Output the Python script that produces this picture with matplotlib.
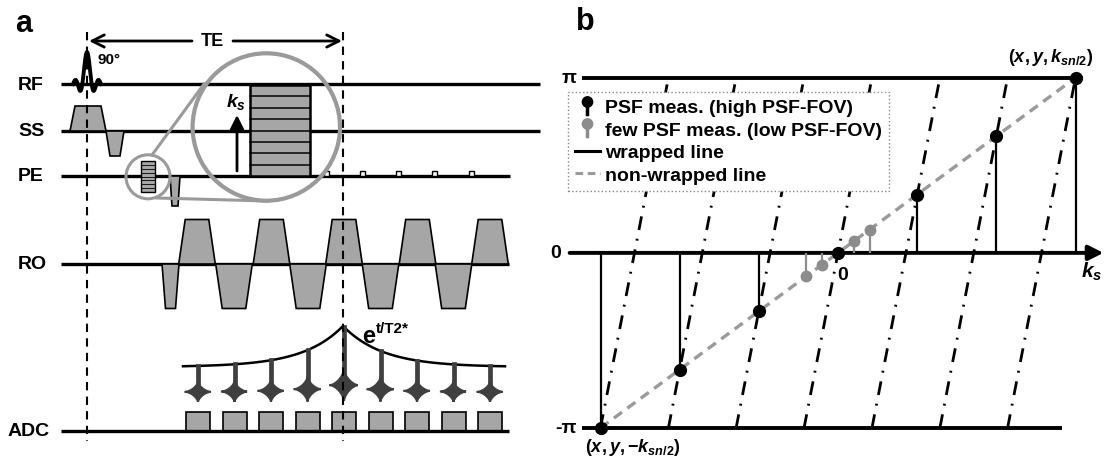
import numpy as np
import matplotlib
matplotlib.use('Agg')
import matplotlib.pyplot as plt
from matplotlib.patches import Polygon, Circle, Rectangle, Ellipse
from matplotlib.lines import Line2D
from matplotlib.path import Path

plt.rcParams['font.family'] = ['Liberation Sans', 'DejaVu Sans']
plt.rcParams['font.weight'] = 'bold'
plt.rcParams['mathtext.fontset'] = 'custom'
plt.rcParams['mathtext.rm'] = 'Liberation Sans:bold'
plt.rcParams['mathtext.it'] = 'Liberation Sans:bold:italic'
plt.rcParams['mathtext.bf'] = 'Liberation Sans:bold'

# ---- panel b data (k in units of k_sn/2, phase in units of pi)
k_high = np.array([-1.0, -0.667, -0.333, 0.0, 0.333, 0.667, 1.0])
phi_high = np.array([-1.0, -0.667, -0.333, 0.0, 0.333, 0.667, 1.0])
k_low = np.array([-0.133, -0.067, 0.067, 0.133])
phi_low = np.array([-0.133, -0.067, 0.067, 0.133])
wrap_k = np.array([-1.0, -0.714, -0.429, -0.143, 0.143, 0.429, 0.714, 1.0])

# ---- panel a sequence (pixel layout of the schematic)
rows = {'RF': 85, 'SS': 132, 'PE': 177, 'RO': 265, 'ADC': 432}
ro_pos = [197, 271.5, 344, 417.5, 490]
ro_neg = [234, 308, 380.5, 453.5]
pe_blips = [326, 362, 398, 434, 471]
echo_x = [198, 234.5, 271, 307.5, 344, 380.5, 417, 453.5, 490]
TE_x = (87, 343)
T2 = 40.0

GRAY = '#a6a6a6'
LGRAY = '#9a9a9a'
DARK = '#3f3f3f'

fig = plt.figure(figsize=(11.05, 4.64), dpi=100)

# panel b axes, placed so that k=0 -> x 838 px, phase 0 -> y 254 px
axb = fig.add_axes([553/1105, 1-450/464, (1104-553)/1105, (450-35)/464], zorder=1)
axb.set_xlim(-1.2, 1.12)
axb.set_ylim(-1.12, 1.25)
axb.axis('off')

# canvas for panel a (pixel coordinates)
cv = fig.add_axes([0, 0, 1, 1], zorder=3)
cv.set_xlim(0, 1105)
cv.set_ylim(464, 0)
cv.axis('off')
cv.patch.set_alpha(0)

# =================== panel b ===================
for i in range(len(wrap_k)-1):
    axb.plot([wrap_k[i], wrap_k[i+1]], [-1, 1], color='k', lw=2.0,
             ls=(0, (5, 3.2, 0.7, 3.2)), zorder=1)
axb.plot([-1.078, 1.032], [1, 1], color='k', lw=2.8, zorder=2, solid_capstyle='butt')
axb.plot([-1.078, 0.943], [-1, -1], color='k', lw=2.8, zorder=2, solid_capstyle='butt')
axb.annotate('', xy=(1.118, 0), xytext=(-1.13, 0),
             arrowprops=dict(arrowstyle='-|>,head_length=0.6,head_width=0.3', lw=2.8,
                             color='k', mutation_scale=15, shrinkA=0, shrinkB=0), zorder=2)
axb.plot(k_high, phi_high, color=LGRAY, lw=2.4, ls=(0, (3, 2)), zorder=3)
axb.vlines(k_high, 0, phi_high, color='k', lw=1.6, zorder=4)
axb.vlines(k_low, 0, phi_low, color='#8c8c8c', lw=1.6, zorder=4)
axb.plot(k_high, phi_high, 'o', color='k', ms=8.5, zorder=5)
axb.plot(k_low, phi_low, 'o', color='#8c8c8c', ms=7.5, zorder=5)

axb.text(-1.133, 1, 'π', ha='center', va='center', fontsize=14)
axb.text(-1.187, 0, '0', ha='center', va='center', fontsize=14)
axb.text(-1.145, -1, '-π', ha='center', va='center', fontsize=14)
axb.text(0.02, -0.125, '0', ha='center', va='center', fontsize=14)
axb.text(1.07, -0.103, r'$k_s$', ha='center', va='center', fontsize=15)
axb.text(0.897, 1.12, r'$(x,y,k_{sn/2})$', ha='center', va='center', fontsize=13)
axb.text(-0.863, -1.103, r'$(x,y,\mathrm{-}k_{sn/2})$', ha='center', va='center', fontsize=13)

circ = Path.circle(center=(0, 0.3), radius=0.34)
stem = Path([(-0.07, -0.6), (0.07, -0.6), (0.07, 0.3), (-0.07, 0.3), (-0.07, -0.6)],
            [Path.MOVETO, Path.LINETO, Path.LINETO, Path.LINETO, Path.CLOSEPOLY])
pin = Path.make_compound_path(circ, stem)
handles = [Line2D([], [], ls='none', marker=pin, color='k', ms=14),
           Line2D([], [], ls='none', marker=pin, color='#8c8c8c', ms=14),
           Line2D([], [], color='k', lw=2.2),
           Line2D([], [], color=LGRAY, lw=2.2, ls=(0, (2.5, 1.5)))]
labels = ['PSF meas. (high PSF-FOV)', 'few PSF meas. (low PSF-FOV)',
          'wrapped line', 'non-wrapped line']
leg = axb.legend(handles, labels, loc='upper left', bbox_to_anchor=(568/1105, 1-93/464),
                 bbox_transform=fig.transFigure, borderaxespad=0, borderpad=0.35,
                 prop={'weight': 'bold', 'size': 14}, labelspacing=0.25,
                 handlelength=1.3, handletextpad=0.25, fancybox=False, framealpha=1,
                 edgecolor='#888888')
leg.get_frame().set_linestyle(':')
leg.get_frame().set_linewidth(1.0)
leg.set_zorder(10)

# =================== panel a ===================
cv.text(24, 24, 'a', ha='center', va='center', fontsize=22)
cv.text(585, 22, 'b', ha='center', va='center', fontsize=22)

for name, y in rows.items():
    cv.text(8 if name == 'ADC' else 18, y, name, ha='left', va='center', fontsize=14)
cv.plot([61, 540], [rows['RF']]*2, color='k', lw=2.4, solid_capstyle='butt')
cv.plot([61, 540], [rows['SS']]*2, color='k', lw=2.4, solid_capstyle='butt')
cv.plot([61, 510], [rows['PE']]*2, color='k', lw=2.4, solid_capstyle='butt')
cv.plot([61, 509], [rows['RO']]*2, color='k', lw=2.4, solid_capstyle='butt')
cv.plot([61, 509], [rows['ADC']]*2, color='k', lw=2.4, solid_capstyle='butt', zorder=3)


def trap(x0, x1, ramp, base, amp, z=2):
    pts = [(x0, base), (x0+ramp, base-amp), (x1-ramp, base-amp), (x1, base)]
    cv.add_patch(Polygon(pts, closed=True, fc=GRAY, ec='k', lw=1.2, zorder=z))


# RF sinc pulse
u = np.linspace(-1, 1, 400)
cv.plot(TE_x[0] + 14*u, rows['RF'] - 32*np.sinc(3*u), color='k', lw=2.8, zorder=3)
cv.text(97, 60, '90°', ha='left', va='center', fontsize=11)

# slice select
trap(70, 106, 5, rows['SS'], 25)
trap(106, 124, 4, rows['SS'], -25)
# phase encode
trap(170, 180, 2, rows['PE'], -30)
for x in pe_blips:
    cv.add_patch(Rectangle((x-2.5, rows['PE']-5), 5, 5, fc='white', ec='k', lw=1, zorder=3))
# readout
trap(162, 179, 3.5, rows['RO'], -44.5)
for c in ro_pos:
    trap(c-18.3, c+18.3, 6.5, rows['RO'], 44.5)
for c in ro_neg:
    trap(c-18.3, c+18.3, 6.5, rows['RO'], -44.5)

# ADC windows and echoes
for x in echo_x:
    cv.add_patch(Rectangle((x-12, 413), 24, rows['ADC']-413, fc=GRAY, ec='k', lw=1.2, zorder=2))
xe = np.linspace(183, 505, 500)
env = 368 - 41*np.exp(-np.abs(xe-TE_x[1])/T2)
cv.plot(xe, env, color='k', lw=1.8, zorder=3)
cv.text(362, 343, 'e', ha='left', va='baseline', fontsize=17)
cv.text(376, 333, 't/T2*', ha='left', va='baseline', fontsize=11)
t = np.linspace(0, 2*np.pi, 300)
for x in echo_x:
    amp = np.exp(-abs(x-TE_x[1])/T2)
    top = 368 - 41*amp
    cy = 393 - 7*amp
    a = 12.5 + 1.5*amp
    b = 10 + 6*amp
    sx = x + a*np.sign(np.cos(t))*np.abs(np.cos(t))**3
    sy = cy + b*np.sign(np.sin(t))*np.abs(np.sin(t))**3
    cv.add_patch(Polygon(np.column_stack([sx, sy]), closed=True, fc=DARK, ec=DARK, lw=1.5, zorder=3))
    cv.add_patch(Ellipse((x, cy), 9 + 2*amp, 8 + 3*amp, fc=DARK, ec='none', zorder=3))
    cv.plot([x, x], [top, cy], color=DARK, lw=3.4, zorder=3)

# TE markers
for x in TE_x:
    cv.plot([x, x], [33, 442], color='k', lw=1.5, ls=(0, (4, 3)), zorder=6)
cv.text(212, 42, 'TE', ha='center', va='center', fontsize=13)
arrow = dict(arrowstyle='->', lw=2, color='k', mutation_scale=22, shrinkA=0, shrinkB=0)
cv.annotate('', xy=(TE_x[0]+2, 42), xytext=(192, 42), arrowprops=arrow)
cv.annotate('', xy=(TE_x[1]-1, 42), xytext=(233, 42), arrowprops=arrow)

# magnifier
cv.add_patch(Circle((148, 177.8), 22, fill=False, ec=LGRAY, lw=2.2, zorder=5))
cv.add_patch(Circle((266.3, 128), 73.7, fill=False, ec=LGRAY, lw=3, zorder=5))
cv.plot([152, 204], [156, 85], color=LGRAY, lw=2.2, zorder=5)
cv.plot([157, 267], [199, 202], color=LGRAY, lw=2.2, zorder=5)


def striped(x0, x1, y0, y1, n, lw):
    cv.add_patch(Rectangle((x0, y0), x1-x0, y1-y0, fc=GRAY, ec='k', lw=lw, zorder=4))
    for yy in np.linspace(y0, y1, n+1)[1:-1]:
        cv.plot([x0, x1], [yy, yy], color='k', lw=lw*0.6, zorder=4)


striped(250, 310, 86, 177, 8, 1.8)
striped(141, 155, 162, 193, 8, 1.0)
cv.annotate('', xy=(237, 116), xytext=(237, 172),
            arrowprops=dict(arrowstyle='-|>,head_length=0.6,head_width=0.3', lw=2,
                            color='k', mutation_scale=14, shrinkA=0, shrinkB=0))
cv.text(236, 102, r'$k_s$', ha='center', va='center', fontsize=14)

fig.savefig('out.png', dpi=100)
